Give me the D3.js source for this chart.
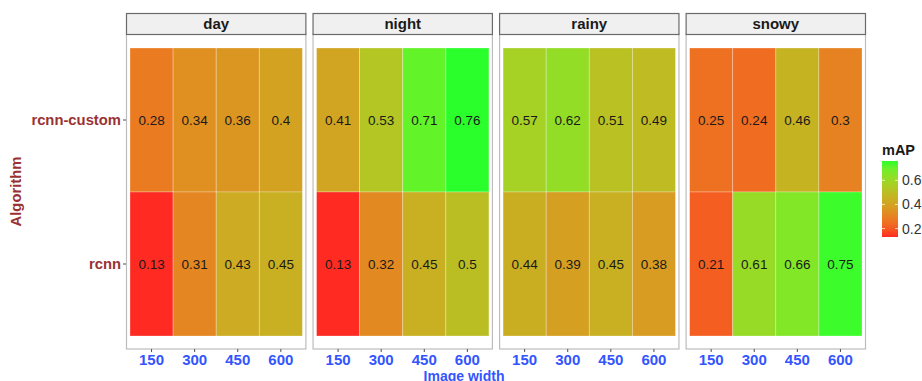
<!DOCTYPE html>
<html>
<head>
<meta charset="utf-8">
<script src="https://cdn.jsdelivr.net/npm/d3@7"></script>
<style>
  body { margin: 0; background: #fff; }
  text { font-family: "Liberation Sans", Arial, sans-serif; }
</style>
</head>
<body>
<svg id="chart" width="922" height="381"></svg>
<script>
// conditions (facets), image widths and algorithms
const conditions = ['day', 'night', 'rainy', 'snowy'];
const widths = ['150', '300', '450', '600'];
const algorithms = ['rcnn-custom', 'rcnn'];

// mAP values per condition, in widths order
const dayCustom = [0.28, 0.34, 0.36, 0.4];
const dayRcnn = [0.13, 0.31, 0.43, 0.45];
const nightCustom = [0.41, 0.53, 0.71, 0.76];
const nightRcnn = [0.13, 0.32, 0.45, 0.5];
const rainyCustom = [0.57, 0.62, 0.51, 0.49];
const rainyRcnn = [0.44, 0.39, 0.45, 0.38];
const snowyCustom = [0.25, 0.24, 0.46, 0.3];
const snowyRcnn = [0.21, 0.61, 0.66, 0.75];

const legendTicks = [0.2, 0.4, 0.6];

const svg = d3.select('#chart');

// build long table
const series = {
    day: [dayCustom, dayRcnn],
    night: [nightCustom, nightRcnn],
    rainy: [rainyCustom, rainyRcnn],
    snowy: [snowyCustom, snowyRcnn]
};
const cells = [];
conditions.forEach(function (c) {
    algorithms.forEach(function (a, i) {
        series[c][i].forEach(function (v, j) {
            cells.push({ cond: c, alg: a, w: widths[j], v: v });
        });
    });
});

const vmin = d3.min(cells, d => d.v);
const vmax = d3.max(cells, d => d.v);

const color = d3.scaleSequential()
    .domain([vmin, vmax])
    .interpolator(d3.interpolateLab('#ff2b22', '#2bff2b'));

const facet = d3.scaleBand()
    .domain(conditions)
    .range([126, 866])
    .paddingInner(0.033);

const panelTop = 34, panelBottom = 349;
const stripTop = 13;

const y = d3.scaleBand()
    .domain(algorithms)
    .range([48, 336]);

const darkRed = '#993333';
const blue = '#3355ff';

conditions.forEach(function (c) {
    const x0 = facet(c);
    const pw = facet.bandwidth();
    const x = d3.scaleBand()
        .domain(widths)
        .range([x0 + 4, x0 + pw - 4]);

    const g = svg.append('g').attr('class', 'panel');

    // panel border
    g.append('rect')
        .attr('x', x0 + 0.5).attr('y', panelTop)
        .attr('width', pw - 1).attr('height', panelBottom - panelTop)
        .attr('fill', '#fff')
        .attr('stroke', '#bdbdbd').attr('stroke-width', 1.2);

    // strip
    g.append('rect')
        .attr('x', x0 + 0.5).attr('y', stripTop + 0.5)
        .attr('width', pw - 1).attr('height', panelTop - stripTop)
        .attr('fill', '#f0f0f0')
        .attr('stroke', '#6b6b6b').attr('stroke-width', 1.2);
    g.append('text')
        .attr('x', x0 + pw / 2).attr('y', stripTop + 16)
        .attr('text-anchor', 'middle')
        .attr('font-size', 15).attr('font-weight', 'bold')
        .attr('fill', '#1a1a1a')
        .text(c);

    const data = cells.filter(d => d.cond === c);

    g.selectAll('rect.tile')
        .data(data)
        .enter().append('rect')
        .attr('class', 'tile')
        .attr('x', d => x(d.w))
        .attr('y', d => y(d.alg))
        .attr('width', x.bandwidth())
        .attr('height', y.bandwidth())
        .attr('fill', d => color(d.v))
        .attr('stroke', 'rgba(255,255,255,0.35)')
        .attr('stroke-width', 0.8);

    g.selectAll('text.lab')
        .data(data)
        .enter().append('text')
        .attr('class', 'lab')
        .attr('x', d => x(d.w) + x.bandwidth() / 2)
        .attr('y', d => y(d.alg) + y.bandwidth() / 2 + 5)
        .attr('text-anchor', 'middle')
        .attr('font-size', 13.5)
        .attr('fill', '#1a1a1a')
        .text(d => d.v);

    // x axis
    const xAxis = g.append('g')
        .attr('transform', 'translate(0,' + panelBottom + ')')
        .call(d3.axisBottom(x).tickSize(3).tickPadding(2));
    xAxis.select('.domain').remove();
    xAxis.selectAll('line').attr('stroke', '#4d4d4d');
    xAxis.selectAll('text')
        .attr('font-size', 15).attr('font-weight', 'bold')
        .attr('fill', blue)
        .attr('font-family', '"Liberation Sans", Arial, sans-serif');
});

// y axis
const yAxis = svg.append('g')
    .attr('transform', 'translate(126,0)')
    .call(d3.axisLeft(y).tickSize(3).tickPadding(2));
yAxis.select('.domain').remove();
yAxis.selectAll('line').attr('stroke', '#4d4d4d');
yAxis.selectAll('text')
    .attr('font-size', 14.8).attr('font-weight', 'bold')
    .attr('fill', darkRed)
    .attr('font-family', '"Liberation Sans", Arial, sans-serif');

// axis titles
svg.append('text')
    .attr('x', 464)
    .attr('y', 381)
    .attr('text-anchor', 'middle')
    .attr('font-size', 14).attr('font-weight', 'bold')
    .attr('fill', blue)
    .text('Image width');

svg.append('text')
    .attr('transform', 'translate(21,' + (panelTop + panelBottom) / 2 + ') rotate(-90)')
    .attr('text-anchor', 'middle')
    .attr('font-size', 14.8).attr('font-weight', 'bold')
    .attr('fill', darkRed)
    .text('Algorithm');

// legend
const lx = 882, lTop = 161, lBottom = 237, lw = 16;
const ly = d3.scaleLinear().domain([vmin, vmax]).range([lBottom, lTop]);

const defs = svg.append('defs');
const grad = defs.append('linearGradient')
    .attr('id', 'lg').attr('x1', 0).attr('y1', 1).attr('x2', 0).attr('y2', 0);
d3.range(0, 1.0001, 0.1).forEach(function (t) {
    grad.append('stop')
        .attr('offset', t)
        .attr('stop-color', color(vmin + t * (vmax - vmin)));
});

svg.append('text')
    .attr('x', lx).attr('y', 155)
    .attr('font-size', 14.5).attr('font-weight', 'bold')
    .attr('fill', '#1a1a1a')
    .text('mAP');

svg.append('rect')
    .attr('x', lx).attr('y', lTop)
    .attr('width', lw).attr('height', lBottom - lTop)
    .attr('fill', 'url(#lg)');

const lAxis = svg.append('g')
    .attr('transform', 'translate(' + (lx + lw) + ',0)')
    .call(d3.axisRight(ly).tickValues(legendTicks).tickSize(0).tickPadding(4).tickFormat(d3.format('.1f')));
lAxis.select('.domain').remove();
lAxis.selectAll('text')
    .attr('font-size', 14)
    .attr('fill', '#333')
    .attr('font-family', '"Liberation Sans", Arial, sans-serif');

legendTicks.forEach(function (t) {
    svg.append('line')
        .attr('x1', lx).attr('x2', lx + 3)
        .attr('y1', ly(t)).attr('y2', ly(t))
        .attr('stroke', 'rgba(255,255,255,0.7)');
    svg.append('line')
        .attr('x1', lx + lw - 3).attr('x2', lx + lw)
        .attr('y1', ly(t)).attr('y2', ly(t))
        .attr('stroke', 'rgba(255,255,255,0.7)');
});
</script>
</body>
</html>
